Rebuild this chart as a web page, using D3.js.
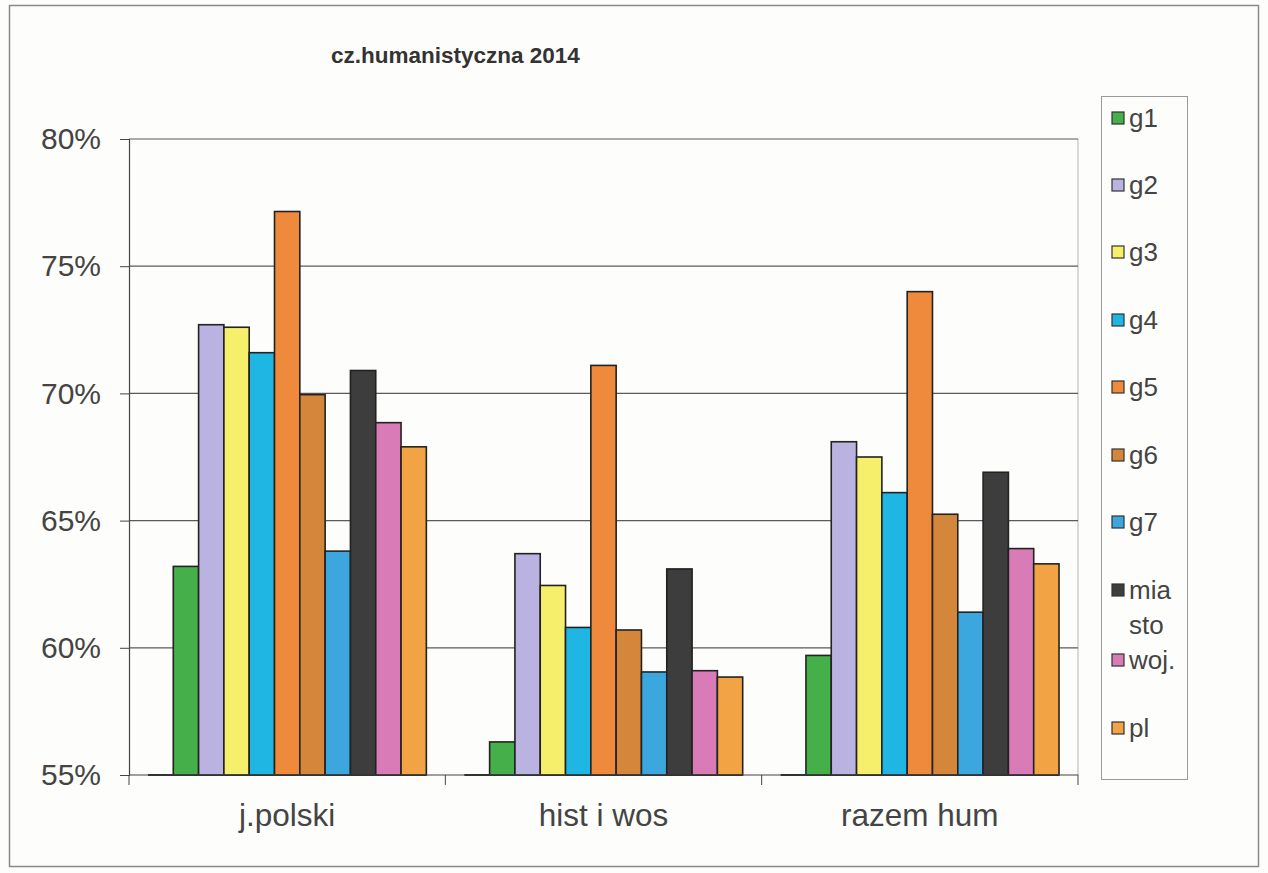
<!DOCTYPE html>
<html>
<head>
<meta charset="utf-8">
<script src="https://cdn.jsdelivr.net/npm/d3@7"></script>
<style>
  body { margin: 0; background: #fdfdfb; }
  svg { display: block; font-family: "Liberation Sans", Arial, sans-serif; }
</style>
</head>
<body>
<div id="chart"></div>
<script>
// data
const categories = ["j.polski", "hist i wos", "razem hum"];
const series = ["g1", "g2", "g3", "g4", "g5", "g6", "g7", "miasto", "woj.", "pl"];
const g1 = [0.632, 0.563, 0.597];
const g2 = [0.727, 0.637, 0.681];
const g3 = [0.726, 0.6245, 0.675];
const g4 = [0.716, 0.608, 0.661];
const g5 = [0.7715, 0.711, 0.740];
const g6 = [0.6995, 0.607, 0.6525];
const g7 = [0.638, 0.5905, 0.614];
const miasto = [0.709, 0.631, 0.669];
const woj = [0.6885, 0.591, 0.639];
const pl = [0.679, 0.5885, 0.633];
const yTicks = [0.55, 0.60, 0.65, 0.70, 0.75, 0.80];

const values = [g1, g2, g3, g4, g5, g6, g7, miasto, woj, pl];
const colors = ["#45b04a", "#bab2e0", "#f6ef6c", "#1fb6e4", "#ef8a3d",
                "#d4873a", "#3ca7df", "#3d3d3d", "#d97bb7", "#f2a445"];

const W = 1268, H = 873;
const plot = {left: 129, right: 1078, top: 139, bottom: 775};

const svg = d3.select("#chart").append("svg")
    .attr("width", W)
    .attr("height", H);

// outer chart frame
svg.append("rect")
    .attr("x", 9.5).attr("y", 5.5)
    .attr("width", 1249).attr("height", 861)
    .attr("fill", "#fdfdfb")
    .attr("stroke", "#8a8a8a")
    .attr("stroke-width", 1.5);

svg.append("text")
    .attr("x", 331)
    .attr("y", 63)
    .attr("fill", "#333")
    .style("font-size", "22.5px")
    .style("font-weight", "bold")
    .text("cz.humanistyczna 2014");

const y = d3.scaleLinear()
    .domain([0.55, 0.80])
    .range([plot.bottom, plot.top]);

const x0 = d3.scaleBand()
    .domain(categories)
    .range([plot.left, plot.right]);

// first slot is an empty series (bars start one slot in), gap width 150%
const x1 = d3.scaleBand()
    .domain(["_"].concat(series))
    .range([0, x0.bandwidth()])
    .paddingInner(0)
    .paddingOuter(0.75);

// plot area right border
svg.append("line")
    .attr("x1", plot.right).attr("x2", plot.right)
    .attr("y1", plot.top).attr("y2", plot.bottom)
    .attr("stroke", "#b5b5b5");

// gridlines
svg.append("g")
    .selectAll("line")
    .data(yTicks.slice(1))
    .enter().append("line")
    .attr("x1", plot.left).attr("x2", plot.right)
    .attr("y1", d => y(d)).attr("y2", d => y(d))
    .attr("stroke", "#5a5a5a")
    .attr("stroke-width", 1.2);

// bars
const groups = svg.append("g")
    .selectAll("g")
    .data(categories)
    .enter().append("g")
    .attr("transform", d => `translate(${x0(d)},0)`);

groups.append("line")
    .attr("x1", x1("_")).attr("x2", x1("pl") + x1.bandwidth())
    .attr("y1", y(0.55)).attr("y2", y(0.55))
    .attr("stroke", "#222")
    .attr("stroke-width", 2);

groups.selectAll("rect")
    .data((c, ci) => series.map((s, si) => ({s: s, i: si, v: values[si][ci]})))
    .enter().append("rect")
    .attr("x", d => x1(d.s))
    .attr("y", d => y(d.v))
    .attr("width", x1.bandwidth())
    .attr("height", d => y(0.55) - y(d.v))
    .attr("fill", d => colors[d.i])
    .attr("stroke", "#222")
    .attr("stroke-width", 1.6);

// y axis
const yAxis = svg.append("g")
    .attr("transform", `translate(${plot.left},0)`)
    .call(d3.axisLeft(y).tickValues(yTicks).tickFormat(d3.format(".0%")).tickSize(9).tickPadding(19));
yAxis.select(".domain").attr("stroke", "#444").attr("stroke-width", 1.2);
yAxis.selectAll(".tick line").attr("stroke", "#444");
yAxis.selectAll("text")
    .attr("fill", "#444")
    .style("font-size", "30px")
    .style("font-family", "Liberation Sans, Arial, sans-serif");

// x axis
const xAxis = svg.append("g")
    .attr("transform", `translate(0,${plot.bottom})`);
xAxis.append("line")
    .attr("x1", plot.left).attr("x2", plot.right)
    .attr("stroke", "#444").attr("stroke-width", 1.2);
xAxis.selectAll(".sep")
    .data(categories.map(c => x0(c)).concat([plot.right]))
    .enter().append("line")
    .attr("class", "sep")
    .attr("x1", d => d).attr("x2", d => d)
    .attr("y1", 0).attr("y2", 10)
    .attr("stroke", "#444");
xAxis.selectAll("text")
    .data(categories)
    .enter().append("text")
    .attr("x", d => x0(d) + x0.bandwidth() / 2)
    .attr("y", 51)
    .attr("text-anchor", "middle")
    .attr("fill", "#444")
    .style("font-size", "31.5px")
    .text(d => d);

// legend
const legend = svg.append("g");
legend.append("rect")
    .attr("x", 1101.5).attr("y", 96.5)
    .attr("width", 86).attr("height", 683)
    .attr("fill", "#fdfdfb")
    .attr("stroke", "#9a9a9a");

const legendY = [118, 185, 252, 320, 387, 455, 522, 590, 660, 728];
const items = legend.selectAll(".item")
    .data(series)
    .enter().append("g")
    .attr("class", "item")
    .attr("transform", (d, i) => `translate(1112,${legendY[i]})`);

items.append("rect")
    .attr("x", 0).attr("y", -6)
    .attr("width", 12).attr("height", 12)
    .attr("fill", (d, i) => colors[i])
    .attr("stroke", "#333")
    .attr("stroke-width", 1.2);

items.append("text")
    .attr("x", 17)
    .attr("y", 9)
    .attr("fill", "#444")
    .style("font-size", "26px")
    .each(function(d) {
        const t = d3.select(this);
        if (d === "miasto") {
            t.append("tspan").attr("x", 17).text("mia");
            t.append("tspan").attr("x", 17).attr("dy", 35).text("sto");
        } else {
            t.text(d);
        }
    });
</script>
</body>
</html>
